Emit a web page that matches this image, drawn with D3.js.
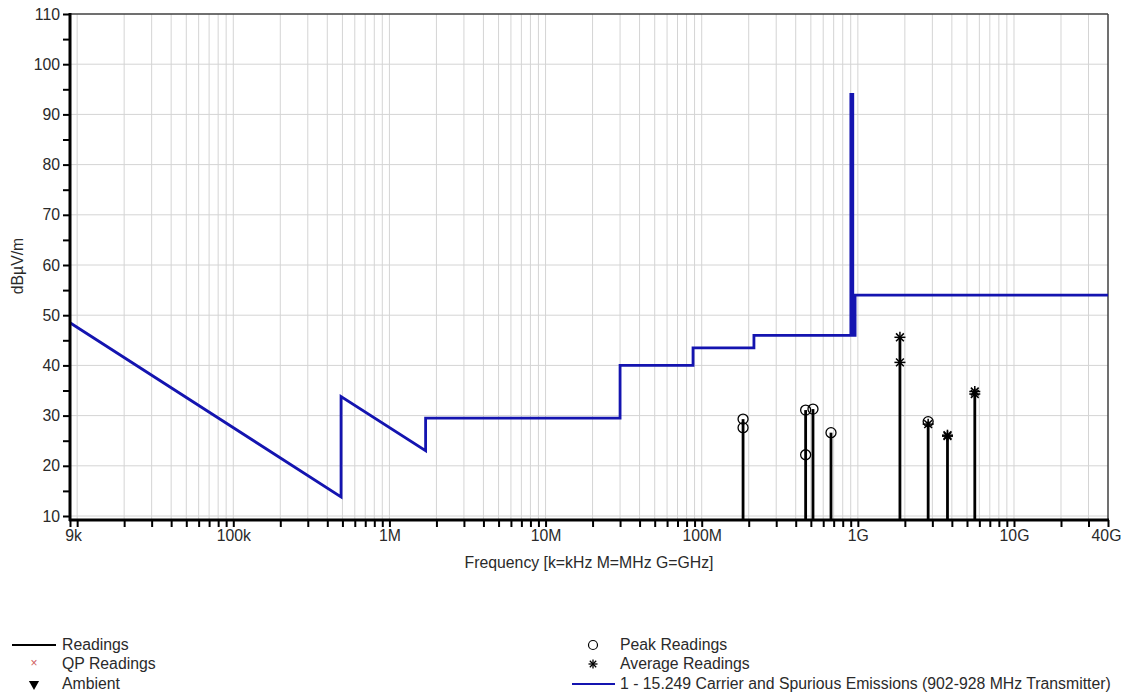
<!DOCTYPE html>
<html>
<head>
<meta charset="utf-8">
<script src="https://cdn.jsdelivr.net/npm/d3@7"></script>
<style>
  html, body { margin: 0; padding: 0; background: #fff; }
  svg { display: block; font-family: "Liberation Sans", Arial, sans-serif; }
</style>
</head>
<body>
<svg id="chart" width="1128" height="698"></svg>
<script>
// ---- data ----
const xTickValues = [9e3, 1e5, 1e6, 1e7, 1e8, 1e9, 1e10, 4e10];
const xTickLabels = ["9k", "100k", "1M", "10M", "100M", "1G", "10G", "40G"];
const yTickValues = [10, 20, 30, 40, 50, 60, 70, 80, 90, 100, 110];

// Limit line: 15.249 Carrier and Spurious Emissions (902-928 MHz Transmitter)
const limitFreq  = [9e3, 490e3, 490e3, 1.705e6, 1.705e6, 30e6, 30e6, 88e6, 88e6, 216e6, 216e6, 902e6, 902e6, 928e6, 928e6, 960e6, 960e6, 40e9];
const limitLevel = [48.5, 13.8, 33.8, 23.0, 29.5, 29.5, 40.0, 40.0, 43.5, 43.5, 46.0, 46.0, 94.0, 94.0, 46.0, 46.0, 54.0, 54.0];

// Readings (stems)
const readingFreq  = [184e6, 463e6, 516e6, 673e6, 1.86e9, 2.82e9, 3.75e9, 5.61e9];
const readingLevel = [29.3, 31.1, 31.3, 26.6, 45.6, 28.8, 26.1, 34.8];

// Peak readings (circles)
const peakFreq  = [184e6, 184e6, 463e6, 463e6, 516e6, 673e6, 2.82e9];
const peakLevel = [29.3, 27.6, 31.1, 22.2, 31.3, 26.6, 28.8];

// Average readings (asterisks)
const avgFreq  = [1.86e9, 1.86e9, 2.82e9, 3.75e9, 3.75e9, 5.61e9, 5.61e9];
const avgLevel = [45.6, 40.6, 28.3, 26.1, 25.9, 34.8, 34.3];

// ---- layout ----
const pLeft = 70, pRight = 1108, pTop = 14, yBottom = 516, axisY = 520;
const svg = d3.select("#chart");
const x = d3.scaleLog().domain([9e3, 4e10]).range([pLeft, pRight]);
const y = d3.scaleLinear().domain([10, 110]).range([yBottom, pTop]);

const textColor = "#2a2a2a";
const blue = "#1414b0";
const fs = 15.8;

// minor log ticks
const minorX = [];
for (let e = 3; e <= 10; e++) {
  for (let k = 1; k <= 9; k++) {
    const v = k * Math.pow(10, e);
    if (v >= 9e3 && v <= 4e10) minorX.push(v);
  }
}

// grid
const grid = svg.append("g");
grid.selectAll("line.vg").data(minorX.filter(v => v > 9e3 && v < 4e10)).enter().append("line")
  .attr("x1", d => x(d)).attr("x2", d => x(d))
  .attr("y1", pTop).attr("y2", axisY)
  .attr("stroke", "#d4d4d4").attr("stroke-width", 1);
grid.selectAll("line.hg").data(yTickValues.filter(v => v < 110)).enter().append("line")
  .attr("x1", pLeft).attr("x2", pRight)
  .attr("y1", d => y(d)).attr("y2", d => y(d))
  .attr("stroke", "#d4d4d4").attr("stroke-width", 1);

// frame top / right
svg.append("line").attr("x1", pLeft).attr("x2", pRight).attr("y1", pTop).attr("y2", pTop)
  .attr("stroke", "#404040").attr("stroke-width", 1.5);
svg.append("line").attr("x1", pRight).attr("x2", pRight).attr("y1", pTop).attr("y2", axisY)
  .attr("stroke", "#404040").attr("stroke-width", 1.5);

// limit line
const limitData = limitFreq.map((f, i) => [f, limitLevel[i]]);
svg.append("path")
  .datum(limitData)
  .attr("d", d3.line().x(d => x(d[0])).y(d => y(d[1])))
  .attr("fill", "none").attr("stroke", blue).attr("stroke-width", 2.8)
  .attr("stroke-linejoin", "miter");

// reading stems
svg.selectAll("line.stem").data(readingFreq.map((f, i) => [f, readingLevel[i]])).enter().append("line")
  .attr("x1", d => x(d[0])).attr("x2", d => x(d[0]))
  .attr("y1", axisY).attr("y2", d => y(d[1]))
  .attr("stroke", "#000").attr("stroke-width", 2.8);

// peak circles
svg.selectAll("circle.peak").data(peakFreq.map((f, i) => [f, peakLevel[i]])).enter().append("circle")
  .attr("cx", d => x(d[0])).attr("cy", d => y(d[1])).attr("r", 5)
  .attr("fill", "none").attr("stroke", "#000").attr("stroke-width", 1.3);

// asterisk symbol
function asterisk(sel, cx, cy, r, w) {
  const g = sel.append("g").attr("transform", `translate(${cx},${cy})`);
  for (let a = 0; a < 4; a++) {
    const ang = a * Math.PI / 4;
    g.append("line")
      .attr("x1", -r * Math.cos(ang)).attr("y1", -r * Math.sin(ang))
      .attr("x2", r * Math.cos(ang)).attr("y2", r * Math.sin(ang))
      .attr("stroke", "#000").attr("stroke-width", w);
  }
}
const avgG = svg.append("g");
avgFreq.forEach((f, i) => asterisk(avgG, x(f), y(avgLevel[i]), 5.5, 1.5));

// axes
const xAxis = d3.axisBottom(x).tickValues(minorX).tickFormat("").tickSize(7).tickSizeOuter(0);
const gx = svg.append("g").attr("transform", `translate(0,${axisY})`).call(xAxis);
gx.select(".domain").remove();
gx.selectAll(".tick line").attr("stroke", "#000").attr("stroke-width", 2);
svg.append("line").attr("x1", pLeft - 1).attr("x2", pRight + 1).attr("y1", axisY).attr("y2", axisY)
  .attr("stroke", "#000").attr("stroke-width", 3);

const xLab = d3.axisBottom(x).tickValues(xTickValues)
  .tickFormat((d, i) => xTickLabels[i]).tickSize(0).tickPadding(0);
const gxl = svg.append("g").attr("transform", `translate(0,${axisY + 10})`).call(xLab);
gxl.select(".domain").remove();
gxl.selectAll("text").attr("fill", textColor).attr("font-size", fs)
  .attr("font-family", "'Liberation Sans', Arial, sans-serif").attr("dy", "0.71em");
gxl.selectAll(".tick").filter((d, i) => i === 0).select("text").attr("dx", 3);
gxl.selectAll(".tick").filter((d, i) => i === xTickValues.length - 1).select("text").attr("dx", -2);

const yMinor = d3.range(10, 111, 5);
const yAxis = d3.axisLeft(y).tickValues(yMinor)
  .tickFormat(d => (d % 10 === 0 ? d : "")).tickSize(7).tickPadding(3);
const gy = svg.append("g").attr("transform", `translate(${pLeft},0)`).call(yAxis);
gy.select(".domain").remove();
gy.selectAll(".tick line").attr("stroke", "#000").attr("stroke-width", 2);
gy.selectAll("text").attr("fill", textColor).attr("font-size", fs)
  .attr("font-family", "'Liberation Sans', Arial, sans-serif");
svg.append("line").attr("x1", pLeft).attr("x2", pLeft).attr("y1", pTop - 1).attr("y2", axisY + 1)
  .attr("stroke", "#000").attr("stroke-width", 3);

// axis titles
svg.append("text").attr("x", 589).attr("y", 568).attr("text-anchor", "middle")
  .attr("fill", textColor).attr("font-size", fs).text("Frequency [k=kHz M=MHz G=GHz]");
svg.append("text").attr("transform", "translate(23,266) rotate(-90)").attr("text-anchor", "middle")
  .attr("fill", textColor).attr("font-size", fs).text("dBµV/m");

// legend
const lg = svg.append("g").attr("font-size", fs).attr("fill", textColor);
lg.append("line").attr("x1", 12).attr("x2", 56).attr("y1", 645).attr("y2", 645)
  .attr("stroke", "#000").attr("stroke-width", 2);
lg.append("text").attr("x", 62).attr("y", 650).text("Readings");
lg.append("text").attr("x", 34).attr("y", 667).attr("text-anchor", "middle")
  .attr("fill", "#d06060").attr("font-size", 12).text("×");
lg.append("text").attr("x", 62).attr("y", 669).text("QP Readings");
lg.append("path").attr("d", d3.symbol().type(d3.symbolTriangle).size(45)())
  .attr("transform", "translate(34,684) rotate(180)").attr("fill", "#000");
lg.append("text").attr("x", 62).attr("y", 689).text("Ambient");

lg.append("circle").attr("cx", 593).attr("cy", 645).attr("r", 4.5)
  .attr("fill", "none").attr("stroke", "#000").attr("stroke-width", 1.2);
lg.append("text").attr("x", 620).attr("y", 650).text("Peak Readings");
asterisk(lg, 593, 664, 4.5, 1.3);
lg.append("text").attr("x", 620).attr("y", 669).text("Average Readings");
lg.append("line").attr("x1", 572).attr("x2", 615).attr("y1", 684).attr("y2", 684)
  .attr("stroke", blue).attr("stroke-width", 2);
lg.append("text").attr("x", 620).attr("y", 689).text("1 - 15.249 Carrier and Spurious Emissions (902-928 MHz Transmitter)");
</script>
</body>
</html>
